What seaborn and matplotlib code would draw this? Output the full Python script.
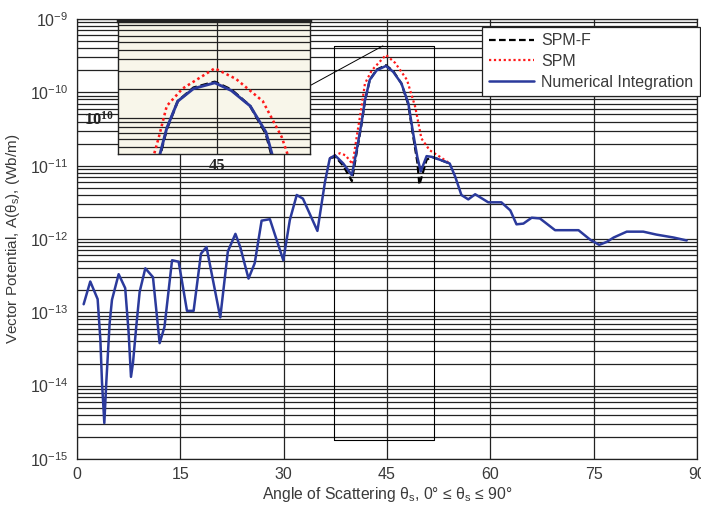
import numpy as np
import pandas as pd
import matplotlib
matplotlib.use("Agg")
import matplotlib.pyplot as plt
import seaborn as sns

# ---------------- data ----------------
theta_ni = [0.97, 1.93, 3.0, 3.4, 3.63, 3.97, 4.26, 4.74, 5.08, 6.05, 7.0, 7.5, 7.84, 8.13,
            8.6, 9.1, 9.92, 11.03, 12.0, 12.7, 13.8, 14.76, 15.97, 16.93, 18.0, 18.8, 20.8,
            21.9, 23.0, 23.7, 24.9, 25.8, 26.8, 28.0, 29.95, 30.9, 31.9, 32.8, 34.9, 36.0,
            36.7, 37.45, 37.9, 38.65, 39.9, 40.6, 41.3, 41.8, 42.5, 43.5, 44.85, 45.9, 47.1,
            48.1, 48.8, 49.4, 49.9, 50.75, 51.5, 52.7, 54.1, 54.9, 55.8, 56.8, 57.8, 59.7,
            61.6, 62.9, 63.8, 64.8, 66.0, 67.2, 69.4, 71.1, 72.8, 74.5, 75.8, 76.9, 77.9,
            79.8, 82.2, 84.1, 86.6, 88.5]
ni_log10 = [-12.89, -12.58, -12.82, -13.38, -13.95, -14.51, -13.95, -13.15, -12.83, -12.48,
            -12.67, -13.28, -13.88, -13.69, -13.20, -12.72, -12.40, -12.52, -13.42, -13.20,
            -12.29, -12.31, -12.98, -12.98, -12.20, -12.11, -13.07, -12.17, -11.93, -12.11,
            -12.54, -12.33, -11.75, -11.73, -12.29, -11.74, -11.40, -11.45, -11.89, -11.22,
            -10.90, -10.86, -10.90, -10.97, -11.13, -10.79, -10.42, -10.11, -9.83, -9.70,
            -9.64, -9.72, -9.88, -10.15, -10.56, -10.88, -11.08, -10.87, -10.88, -10.92,
            -10.97, -11.15, -11.40, -11.46, -11.39, -11.50, -11.50, -11.61, -11.80, -11.79,
            -11.71, -11.72, -11.88, -11.88, -11.88, -12.01, -12.08, -12.04, -11.98, -11.90,
            -11.90, -11.94, -11.98, -12.02]

theta_spmf = [36.7, 37.45, 37.9, 38.65, 39.9, 40.6, 41.3, 41.8, 42.5, 43.5, 44.85, 45.9,
              47.1, 48.1, 48.8, 49.4, 49.7, 50.75, 51.5, 52.7, 54.1]
spmf_log10 = [-10.90, -10.88, -10.92, -11.00, -11.21, -10.82, -10.44, -10.12, -9.83, -9.69,
              -9.63, -9.71, -9.88, -10.17, -10.60, -10.95, -11.26, -10.92, -10.88, -10.92,
              -10.97]

theta_spm = [36.7, 37.45, 38.2, 39.0, 40.0, 40.6, 41.3, 41.8, 42.8, 44.85, 46.2, 47.9, 49.1,
             50.0, 51.2, 52.7, 54.1]
spm_log10 = [-10.90, -10.86, -10.83, -10.86, -10.98, -10.61, -10.20, -9.88, -9.70, -9.49,
             -9.60, -9.83, -10.20, -10.63, -10.79, -10.88, -10.97]

x_ticks = [0, 15, 30, 45, 60, 75, 90]
y_ticks = [1e-15, 1e-14, 1e-13, 1e-12, 1e-11, 1e-10, 1e-9]

df_ni = pd.DataFrame({"theta": theta_ni, "A": np.power(10.0, ni_log10)})
df_spmf = pd.DataFrame({"theta": theta_spmf, "A": np.power(10.0, spmf_log10)})
df_spm = pd.DataFrame({"theta": theta_spm, "A": np.power(10.0, spm_log10)})

# ---------------- style ----------------
sns.set_style("white")
plt.rcParams["font.family"] = ["Liberation Sans", "DejaVu Sans"]
plt.rcParams["mathtext.default"] = "regular"

BLUE = "#2b3a9c"
RED = "#ff1a1a"
GRID = "#222222"
TXT = "#3a3a3a"

fig = plt.figure(figsize=(7.01, 5.08), dpi=100)
ax = fig.add_axes([0.1098, 0.0965, 0.8845, 0.8661])

def draw_lines(a, lw_scale=1.0):
    sns.lineplot(data=df_spmf, x="theta", y="A", ax=a, color="black", lw=1.6 * lw_scale,
                 linestyle=(0, (3, 1.5)), label="SPM-F", sort=False, estimator=None)
    sns.lineplot(data=df_spm, x="theta", y="A", ax=a, color=RED, lw=1.6 * lw_scale,
                 linestyle=(0, (1, 1.2)), label="SPM", sort=False, estimator=None)
    sns.lineplot(data=df_ni, x="theta", y="A", ax=a, color=BLUE, lw=1.8 * lw_scale,
                 label="Numerical Integration", sort=False, estimator=None)

draw_lines(ax)
ax.set_yscale("log")
ax.set_xlim(0, 90)
ax.set_ylim(1e-15, 1e-9)
ax.set_xticks(x_ticks)
ax.set_xticklabels([str(t) for t in x_ticks])
ax.set_yticks(y_ticks)
ax.set_yticklabels([r"$10^{%d}$" % int(np.log10(v)) for v in y_ticks])
ax.yaxis.set_minor_locator(matplotlib.ticker.LogLocator(base=10, subs=np.arange(2, 10), numticks=20))
ax.yaxis.set_minor_formatter(matplotlib.ticker.NullFormatter())
ax.grid(True, which="major", axis="both", color=GRID, lw=0.9)
ax.grid(True, which="minor", axis="y", color=GRID, lw=0.9)
ax.tick_params(axis="both", which="both", length=0, labelsize=11.5, labelcolor=TXT, pad=6)
for s in ax.spines.values():
    s.set_color(GRID)
    s.set_linewidth(0.9)
ax.set_xlabel(r"Angle of Scattering θ$_s$, 0° ≤ θ$_s$ ≤ 90°", fontsize=11.3, color=TXT, labelpad=2)
ax.set_ylabel(r"Vector Potential, A(θ$_s$), (Wb/m)", fontsize=11, color=TXT, labelpad=6)

# zoom rectangle and connector
ax.plot([37.3, 51.8, 51.8, 37.3, 37.3], [1.8e-15, 1.8e-15, 4.3e-10, 4.3e-10, 1.8e-15],
        color="black", lw=0.8, zorder=3)
ax.plot([33.8, 44.4], [1.23e-10, 4.3e-10], color="black", lw=0.7, zorder=3)

handles, labels = ax.get_legend_handles_labels()
leg = fig.legend(handles, labels, loc="upper right", bbox_to_anchor=(700 / 701, 1 - 27 / 508),
                 fontsize=11.5, frameon=True, fancybox=False, framealpha=1, edgecolor="#222222",
                 handlelength=2.8, borderpad=0.4, labelspacing=0.35, handletextpad=0.5,
                 borderaxespad=0.0)
ax.get_legend().remove()
leg.get_frame().set_linewidth(0.9)
for t in leg.get_texts():
    t.set_color(TXT)

# ---------------- inset ----------------
ins = fig.add_axes([0.1683, 0.6969, 0.2739, 0.2618])
ins.set_facecolor("#f8f6ea")
draw_lines(ins, 1.15)
ins.get_legend().remove()
ins.set_yscale("log")
ins.set_xlim(38.7, 50.9)
ins.set_ylim(4.2e-11, 1e-9)
ins.set_xticks([45])
ins.set_xticklabels(["45"])
ins.set_yticks([1e-10])
ins.set_yticklabels([r"10$^{10}$"])
ins.yaxis.set_minor_locator(matplotlib.ticker.LogLocator(base=10, subs=np.arange(2, 10), numticks=20))
ins.yaxis.set_minor_formatter(matplotlib.ticker.NullFormatter())
ins.grid(True, which="major", axis="both", color=GRID, lw=0.9)
ins.grid(True, which="minor", axis="y", color=GRID, lw=0.9)
ins.tick_params(axis="both", which="both", length=0, pad=3)
for lab in ins.get_xticklabels() + ins.get_yticklabels():
    lab.set_fontfamily("Liberation Serif")
    lab.set_fontweight("bold")
    lab.set_fontsize(12)
    lab.set_color("#222222")
ins.set_xlabel("")
ins.set_ylabel("")
for s in ins.spines.values():
    s.set_color("#222222")
    s.set_linewidth(1.0)
ins.spines["top"].set_linewidth(2.5)

fig.savefig("out.png", dpi=100)
